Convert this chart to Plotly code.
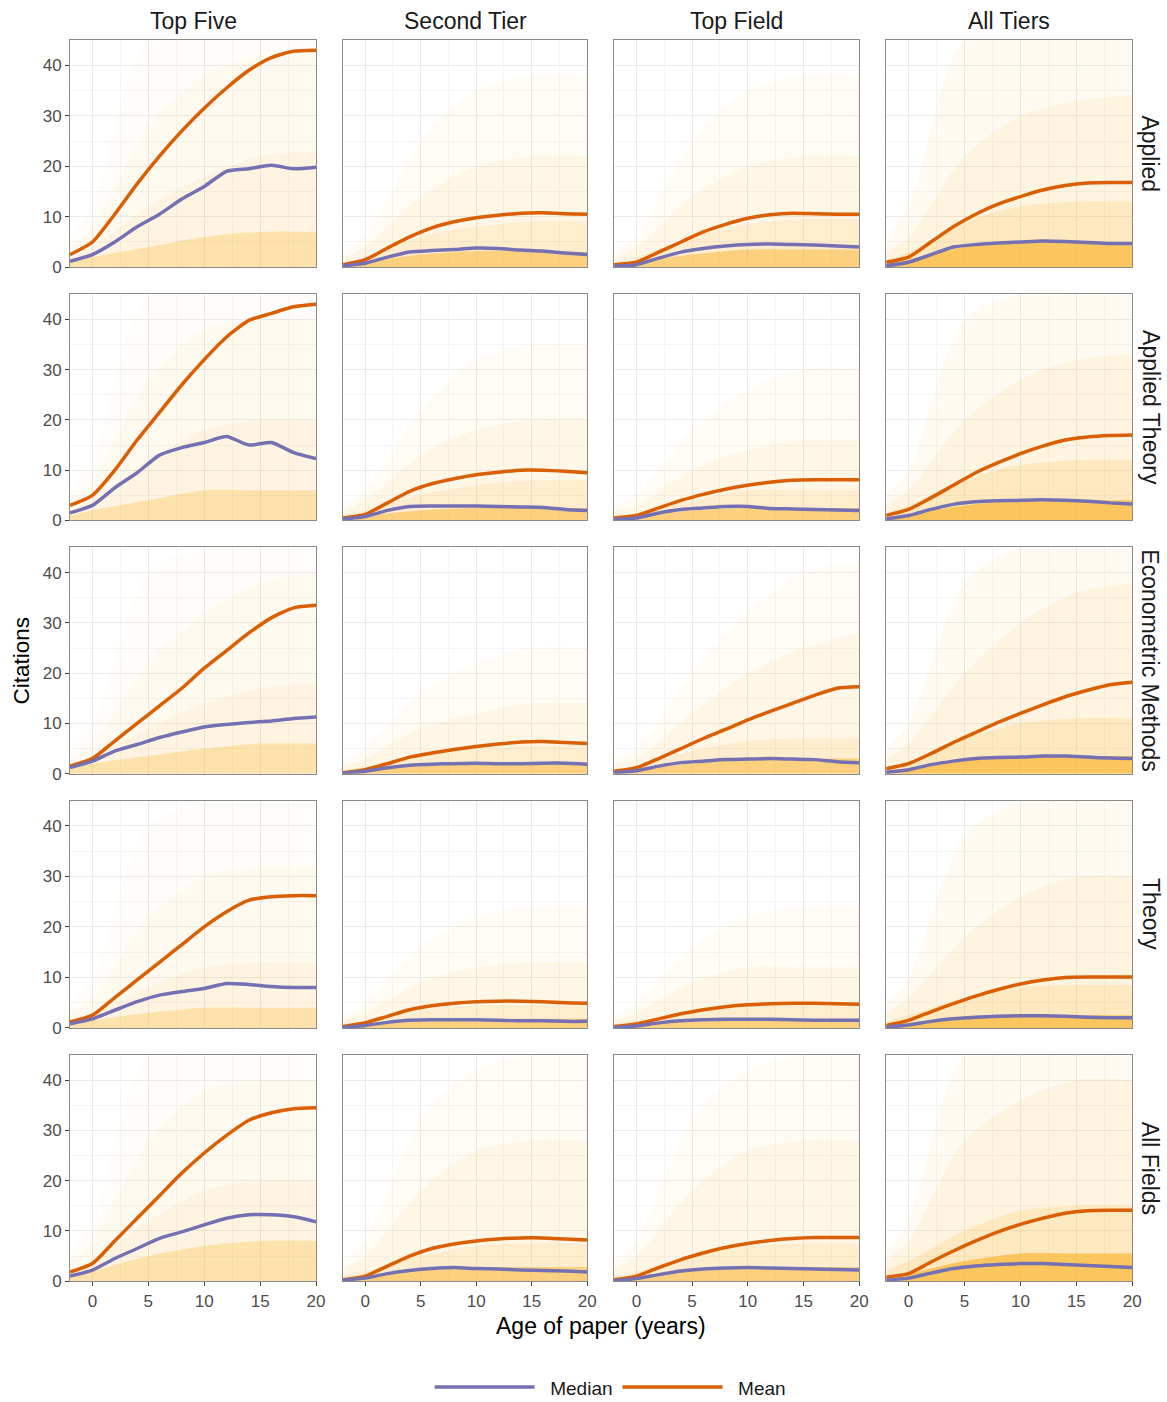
import plotly.graph_objects as go

# ---------------- data ----------------
TIERS = ["Top Five", "Second Tier", "Top Field", "All Tiers"]
FIELDS = ["Applied", "Applied Theory", "Econometric Methods", "Theory", "All Fields"]
AGES = [-2, 0, 2, 4, 6, 8, 10, 12, 14, 16, 18, 20]
BAND_AGES = [-2, 0, 5, 10, 15, 20]
X_TICKS = [0, 5, 10, 15, 20]
Y_TICKS = [0, 10, 20, 30, 40]

# mean citations, per tier (Top Five, Second Tier, Top Field, All Tiers)
MEAN_APPLIED = [
    [2.5, 5, 10.5, 16.5, 22, 27, 31.5, 35.5, 39, 41.5, 42.8, 43],
    [0.5, 1.5, 3.8, 6, 7.8, 9, 9.8, 10.3, 10.7, 10.8, 10.6, 10.5],
    [0.5, 1, 3, 5, 7, 8.5, 9.7, 10.4, 10.7, 10.6, 10.5, 10.5],
    [1, 2, 5, 8, 10.5, 12.5, 14, 15.3, 16.2, 16.7, 16.8, 16.8],
]
MEAN_APPLIED_THEORY = [
    [3, 5, 10, 16, 21.5, 27, 32, 36.5, 39.8, 41.2, 42.5, 43],
    [0.5, 1.2, 3.5, 5.8, 7.3, 8.3, 9.1, 9.6, 10, 10, 9.8, 9.5],
    [0.5, 1, 2.5, 4, 5.2, 6.2, 7, 7.6, 8, 8.1, 8.1, 8.1],
    [1, 2.2, 4.5, 7, 9.5, 11.5, 13.3, 14.8, 16, 16.6, 16.9, 17],
]
MEAN_ECONOMETRIC = [
    [1.5, 3, 6.5, 10, 13.5, 17, 21, 24.5, 28, 31, 33, 33.5],
    [0.2, 0.8, 2, 3.3, 4.1, 4.8, 5.4, 5.9, 6.3, 6.4, 6.2, 6.0],
    [0.5, 1.2, 3, 5, 7, 8.8, 10.7, 12.4, 14, 15.6, 17, 17.3],
    [1, 2, 4, 6.2, 8.2, 10.2, 12, 13.7, 15.3, 16.6, 17.7, 18.2],
]
MEAN_THEORY = [
    [1.2, 2.5, 6, 9.5, 13, 16.5, 20, 23, 25.3, 26, 26.2, 26.2],
    [0.3, 1, 2.3, 3.6, 4.4, 4.9, 5.2, 5.3, 5.3, 5.2, 5.0, 4.9],
    [0.3, 0.8, 1.8, 2.8, 3.6, 4.2, 4.6, 4.8, 4.9, 4.9, 4.8, 4.7],
    [0.5, 1.5, 3.2, 4.8, 6.3, 7.6, 8.7, 9.5, 10, 10.1, 10.1, 10.1],
]
MEAN_ALL_FIELDS = [
    [1.8, 3.5, 8, 12.5, 17, 21.5, 25.5, 29, 32, 33.5, 34.3, 34.5],
    [0.3, 1, 3, 5, 6.5, 7.4, 8, 8.4, 8.6, 8.6, 8.4, 8.2],
    [0.3, 1, 2.7, 4.3, 5.6, 6.7, 7.5, 8.1, 8.5, 8.7, 8.7, 8.7],
    [0.8, 1.5, 3.8, 6, 8, 9.8, 11.3, 12.5, 13.5, 14, 14.1, 14.1],
]

# median citations
MEDIAN_APPLIED = [
    [1.2, 2.5, 5, 8, 10.5, 13.5, 16, 19, 19.5, 20.2, 19.5, 19.8],
    [0.3, 0.8, 2, 3, 3.3, 3.5, 3.8, 3.7, 3.4, 3.2, 2.8, 2.5],
    [0.2, 0.5, 1.8, 3, 3.7, 4.2, 4.5, 4.6, 4.5, 4.4, 4.2, 4.0],
    [0.3, 1, 2.5, 4, 4.5, 4.8, 5, 5.2, 5.1, 4.9, 4.7, 4.7],
]
MEDIAN_APPLIED_THEORY = [
    [1.5, 3, 6.5, 9.5, 13, 14.5, 15.5, 16.7, 15, 15.5, 13.5, 12.3],
    [0.3, 0.8, 2, 2.8, 2.9, 2.9, 2.9, 2.8, 2.7, 2.6, 2.2, 2.0],
    [0.2, 0.5, 1.5, 2.2, 2.5, 2.8, 2.8, 2.4, 2.3, 2.2, 2.1, 2.0],
    [0.3, 1, 2.2, 3.2, 3.7, 3.9, 4, 4.1, 4, 3.8, 3.5, 3.3],
]
MEDIAN_ECONOMETRIC = [
    [1.2, 2.5, 4.5, 5.8, 7.2, 8.3, 9.3, 9.8, 10.2, 10.5, 11.0, 11.3],
    [0.1, 0.5, 1.2, 1.7, 1.9, 2.0, 2.1, 2.0, 2.0, 2.1, 2.1, 1.9],
    [0.2, 0.6, 1.5, 2.2, 2.5, 2.8, 2.9, 3.0, 2.9, 2.8, 2.4, 2.2],
    [0.3, 0.8, 1.8, 2.5, 3, 3.2, 3.3, 3.5, 3.5, 3.3, 3.1, 3.0],
]
MEDIAN_THEORY = [
    [0.8, 1.8, 3.5, 5.2, 6.5, 7.2, 7.8, 8.8, 8.6, 8.2, 8.0, 8.0],
    [0.1, 0.5, 1.1, 1.5, 1.6, 1.6, 1.6, 1.5, 1.4, 1.4, 1.3, 1.3],
    [0.1, 0.4, 1, 1.4, 1.6, 1.7, 1.7, 1.7, 1.6, 1.5, 1.5, 1.5],
    [0.2, 0.6, 1.3, 1.8, 2.1, 2.3, 2.4, 2.4, 2.3, 2.1, 2.0, 2.0],
]
MEDIAN_ALL_FIELDS = [
    [1, 2.2, 4.5, 6.5, 8.5, 9.8, 11.2, 12.5, 13.2, 13.2, 12.8, 11.8],
    [0.2, 0.6, 1.5, 2.1, 2.5, 2.7, 2.5, 2.4, 2.2, 2.1, 2.0, 1.8],
    [0.1, 0.5, 1.3, 2, 2.4, 2.6, 2.7, 2.6, 2.5, 2.4, 2.3, 2.2],
    [0.2, 0.6, 1.6, 2.5, 3, 3.3, 3.5, 3.5, 3.3, 3.1, 2.9, 2.7],
]

# spread of individual paper trajectories (faint / light / mid / dense envelopes), at BAND_AGES
BANDS_APPLIED = [
    ([6, 12, 45, 45, 45, 45], [4, 8, 28, 38, 42, 43], [2, 4, 12, 18, 22, 23], [1, 2, 4, 6, 7, 7]),
    ([3, 6, 25, 35, 38, 38], [2, 4, 14, 20, 22, 22], [1, 2, 6, 8, 9, 9], [0.5, 1, 2.5, 3.2, 3.2, 3]),
    ([3, 6, 25, 35, 38, 38], [2, 4, 14, 20, 22, 22], [1, 2, 6, 8.5, 9.5, 9.5], [0.5, 1, 2.5, 3.5, 3.5, 3.5]),
    ([6, 12, 45, 45, 45, 45], [3, 6, 22, 30, 33, 34], [1.5, 3, 9, 12, 13, 13], [0.7, 1.5, 4, 5, 5, 5]),
]
BANDS_APPLIED_THEORY = [
    ([6, 12, 45, 45, 45, 45], [4, 8, 28, 38, 40, 40], [2, 4, 12, 18, 20, 20], [1, 2, 4, 6, 6, 6]),
    ([3, 6, 22, 32, 35, 35], [2, 4, 13, 18, 20, 20], [1, 2, 5, 7, 8, 8], [0.5, 1, 2, 2.5, 2.5, 2.5]),
    ([3, 5, 18, 26, 30, 30], [2, 3, 10, 14, 16, 16], [1, 1.5, 4, 6, 6, 6], [0.4, 0.8, 2, 2.5, 2.5, 2.5]),
    ([5, 10, 40, 45, 45, 45], [3, 6, 20, 28, 32, 33], [1.5, 3, 8, 11, 12, 12], [0.6, 1.2, 3, 4, 4, 4]),
]
BANDS_ECONOMETRIC = [
    ([5, 10, 40, 45, 45, 45], [3, 6, 22, 32, 38, 40], [2, 3.5, 9, 14, 17, 18], [1, 2, 3.5, 5, 6, 6]),
    ([2.5, 5, 16, 22, 25, 25], [1.5, 3, 9, 12, 14, 14], [0.8, 1.5, 3.5, 5, 5.5, 5.5], [0.3, 0.7, 1.5, 2, 2, 2]),
    ([3, 5, 20, 32, 40, 42], [2, 3, 12, 20, 25, 28], [1, 1.5, 4.5, 6.5, 7, 7], [0.4, 0.8, 2, 2.8, 3, 3]),
    ([5, 10, 38, 45, 45, 45], [3, 6, 20, 30, 36, 38], [1.2, 2.5, 7, 10, 11, 11], [0.5, 1, 2.5, 3.5, 3.5, 3.5]),
]
BANDS_THEORY = [
    ([5, 10, 40, 45, 45, 45], [3, 6, 22, 30, 32, 32], [2, 3, 8, 12, 13, 13], [1, 1.5, 3, 4, 4, 4]),
    ([2.5, 5, 16, 22, 24, 24], [1.5, 3, 9, 12, 13, 13], [0.8, 1.5, 3.5, 4.5, 4.5, 4.5], [0.3, 0.7, 1.5, 1.8, 1.8, 1.8]),
    ([2.5, 5, 16, 22, 24, 24], [1.5, 3, 9, 12, 12, 12], [0.8, 1.5, 3.5, 4.5, 4.5, 4.5], [0.3, 0.7, 1.5, 1.8, 1.8, 1.8]),
    ([5, 10, 38, 45, 45, 45], [3, 6, 18, 26, 30, 30], [1.2, 2.5, 6, 8, 8.5, 8.5], [0.5, 1, 2, 2.5, 2.5, 2.5]),
]
BANDS_ALL_FIELDS = [
    ([6, 12, 45, 45, 45, 45], [4, 8, 28, 38, 40, 40], [2, 4, 12, 18, 20, 20], [1, 2, 5, 7, 8, 8]),
    ([4, 8, 32, 42, 45, 45], [2.5, 5, 18, 26, 28, 28], [1, 2, 5, 7, 7.5, 7.5], [0.5, 1, 2.2, 2.8, 2.8, 2.8]),
    ([4, 8, 32, 42, 45, 45], [2.5, 5, 18, 26, 28, 28], [1, 2, 5, 7, 7.5, 7.5], [0.5, 1, 2.2, 2.8, 2.8, 2.8]),
    ([6, 12, 45, 45, 45, 45], [4, 8, 28, 36, 40, 40], [2, 4, 10, 14, 15, 15], [0.8, 1.5, 4, 5.5, 5.5, 5.5]),
]

MEANS = [MEAN_APPLIED, MEAN_APPLIED_THEORY, MEAN_ECONOMETRIC, MEAN_THEORY, MEAN_ALL_FIELDS]
MEDIANS = [MEDIAN_APPLIED, MEDIAN_APPLIED_THEORY, MEDIAN_ECONOMETRIC, MEDIAN_THEORY, MEDIAN_ALL_FIELDS]
BANDS = [BANDS_APPLIED, BANDS_APPLIED_THEORY, BANDS_ECONOMETRIC, BANDS_THEORY, BANDS_ALL_FIELDS]

# ---------------- styling ----------------
W, H = 1167, 1420
SX, SY = 1.008, 1.008   # compensation so the photographed page lands on the target grid
COL_PX = [(70, 316), (343, 587), (614, 859), (886, 1132)]
ROW_PX = [(40, 267), (294, 520), (547, 773), (800, 1027), (1054, 1280)]
MEDIAN_COLOR = "#7570B3"
MEAN_COLOR = "#D95F02"
BAND_ALPHAS = [0.04, 0.07, 0.12, 0.45]
TIER_DENSITY = [0.6, 1.0, 1.0, 1.35]
BAND_RGB = "248,176,30"
FONT = "Liberation Sans, Arial, sans-serif"
NBSP = "\u00a0\u00a0"


def px_x(v):
    return v * SX / W


def px_y(v):
    return 1 - v * SY / H


fig = go.Figure()
layout_axes = {}

for r, field in enumerate(FIELDS):
    for c, tier in enumerate(TIERS):
        idx = r * 4 + c + 1
        xa = "x" if idx == 1 else f"x{idx}"
        ya = "y" if idx == 1 else f"y{idx}"
        for band, alpha in zip(BANDS[r][c], BAND_ALPHAS):
            a = min(0.9, alpha * TIER_DENSITY[c])
            fig.add_trace(go.Scatter(
                x=BAND_AGES, y=band, mode="lines", fill="tozeroy",
                fillcolor=f"rgba({BAND_RGB},{a:.3f})",
                line=dict(width=0, shape="spline", smoothing=0.8),
                hoverinfo="skip", showlegend=False, xaxis=xa, yaxis=ya))
        fig.add_trace(go.Scatter(
            x=AGES, y=MEANS[r][c], mode="lines", name=NBSP + "Mean",
            line=dict(color=MEAN_COLOR, width=3.5, shape="spline", smoothing=0.6),
            legendgroup="mean", showlegend=(idx == 1), legendrank=2,
            xaxis=xa, yaxis=ya))
        fig.add_trace(go.Scatter(
            x=AGES, y=MEDIANS[r][c], mode="lines", name=NBSP + "Median",
            line=dict(color=MEDIAN_COLOR, width=3.5, shape="spline", smoothing=0.6),
            legendgroup="median", showlegend=(idx == 1), legendrank=1,
            xaxis=xa, yaxis=ya))

        x0, x1 = COL_PX[c]
        y0, y1 = ROW_PX[r]
        common = dict(
            showline=True, linecolor="#8a8a8a", linewidth=1, mirror=True,
            showgrid=True, gridcolor="#ebebeb", gridwidth=1,
            zeroline=False, fixedrange=True,
            tickfont=dict(family=FONT, size=17, color="#4d4d4d"),
            ticklen=4, tickcolor="#444444", tickwidth=1,
        )
        xaxis = dict(common, domain=[px_x(x0), px_x(x1)], range=[-2, 20],
                     tickmode="array", tickvals=X_TICKS,
                     minor=dict(tickmode="array", tickvals=[-2.5, 2.5, 7.5, 12.5, 17.5],
                                showgrid=True, gridcolor="#f5f5f5", ticklen=0),
                     anchor=ya)
        yaxis = dict(common, domain=[px_y(y1), px_y(y0)], range=[0, 45],
                     tickmode="array", tickvals=Y_TICKS,
                     minor=dict(tickmode="array", tickvals=[5, 15, 25, 35, 45],
                                showgrid=True, gridcolor="#f5f5f5", ticklen=0),
                     anchor=xa)
        if r == len(FIELDS) - 1:
            xaxis.update(ticks="outside", showticklabels=True)
        else:
            xaxis.update(ticks="", showticklabels=False)
        if c == 0:
            yaxis.update(ticks="outside", showticklabels=True)
        else:
            yaxis.update(ticks="", showticklabels=False)
        layout_axes["xaxis" if idx == 1 else f"xaxis{idx}"] = xaxis
        layout_axes["yaxis" if idx == 1 else f"yaxis{idx}"] = yaxis

annotations = []
for c, tier in enumerate(TIERS):
    x0, x1 = COL_PX[c]
    annotations.append(dict(text=tier, x=px_x((x0 + x1) / 2), y=px_y(21),
                            xref="paper", yref="paper", showarrow=False,
                            xanchor="center", yanchor="middle",
                            font=dict(family=FONT, size=23, color="#1a1a1a")))
for r, field in enumerate(FIELDS):
    y0, y1 = ROW_PX[r]
    annotations.append(dict(text=field, x=px_x(1150), y=px_y((y0 + y1) / 2),
                            xref="paper", yref="paper", showarrow=False,
                            textangle=90, xanchor="center", yanchor="middle",
                            font=dict(family=FONT, size=23, color="#1a1a1a")))
annotations.append(dict(text="Citations", x=px_x(22), y=px_y(660),
                        xref="paper", yref="paper", showarrow=False, textangle=-90,
                        xanchor="center", yanchor="middle",
                        font=dict(family=FONT, size=22.5, color="#000000")))
annotations.append(dict(text="Age of paper (years)", x=px_x(601), y=px_y(1325),
                        xref="paper", yref="paper", showarrow=False,
                        xanchor="center", yanchor="middle",
                        font=dict(family=FONT, size=23, color="#000000")))

fig.update_layout(
    width=W, height=H,
    margin=dict(l=0, r=0, t=0, b=0),
    paper_bgcolor="white", plot_bgcolor="white",
    annotations=annotations,
    showlegend=True,
    legend=dict(orientation="h", x=px_x(610), xanchor="center",
                y=px_y(1386), yanchor="middle",
                font=dict(family=FONT, size=19, color="#1a1a1a"),
                itemwidth=100, traceorder="normal", bgcolor="rgba(0,0,0,0)"),
    **layout_axes,
)

fig.write_html("out.html")
